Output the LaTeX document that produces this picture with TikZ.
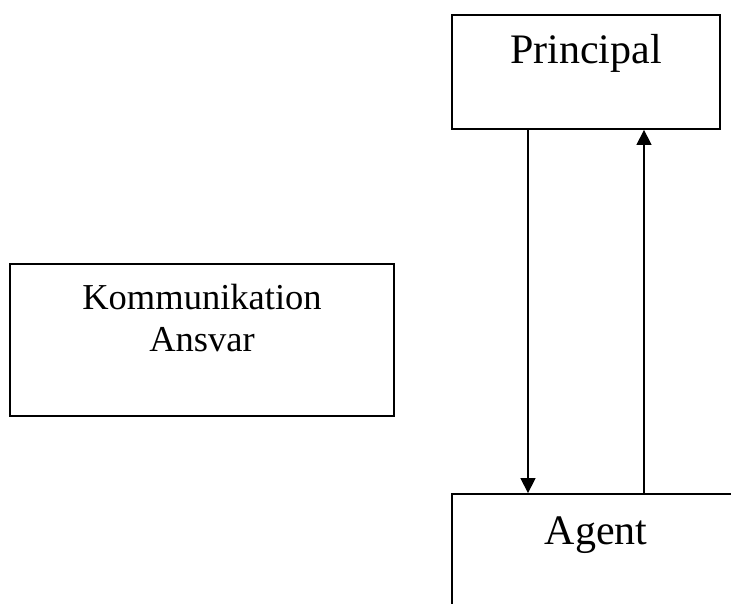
\documentclass[tikz,border=0pt]{standalone}
\usepackage{fontspec}
\setmainfont{Liberation Serif}
\usetikzlibrary{arrows.meta,positioning}

\tikzset{every picture/.style={line width=0.75pt}}
\tikzset{
  boxshape/.style={draw,line width=1.8pt,inner sep=0pt},
  boxtext/.style={anchor=base,inner sep=0.75pt,align=center},
  flowarrow/.style={line width=1.3pt,-{Triangle[length=15pt,width=15pt]}}
}

\begin{document}
\begin{tikzpicture}[x=1pt,y=1pt,yscale=-1]
    \useasboundingbox (0,0) rectangle (731,604);
    \clip (0,0) rectangle (731,604);

    %Shape: Rectangle
    \node [boxshape,minimum width=268pt,minimum height=114pt] (principal) at (586,72) {};
    %Shape: Rectangle
    \node [boxshape,minimum width=384pt,minimum height=152pt] (komm) at (202,340) {};
    %Shape: Rectangle
    \node [boxshape,minimum width=293pt,minimum height=130pt] (agent) at (598.5,559) {};

    % Text Node
    \node [boxtext,font=\fontsize{42}{48}\selectfont] (principaltext) at ([yshift=49pt]principal.north) {Principal};
    % Text Node
    \node [boxtext,font=\fontsize{36.5}{42}\selectfont] (kommtext) at ([yshift=88pt]komm.north) {Kommunikation\\Ansvar};
    % Text Node
    \node [boxtext,font=\fontsize{42}{48}\selectfont] (agenttext) at ([xshift=-2.5pt,yshift=51pt]agent.north) {Agent};

    %Straight Lines
    \draw [flowarrow] ([xshift=-58pt]principal.south) -- ([xshift=-58pt]principal.south |- agent.north);
    %Straight Lines
    \draw [flowarrow] ([xshift=58pt]principal.south |- agent.north) -- ([xshift=58pt]principal.south);

\end{tikzpicture}
\end{document}
